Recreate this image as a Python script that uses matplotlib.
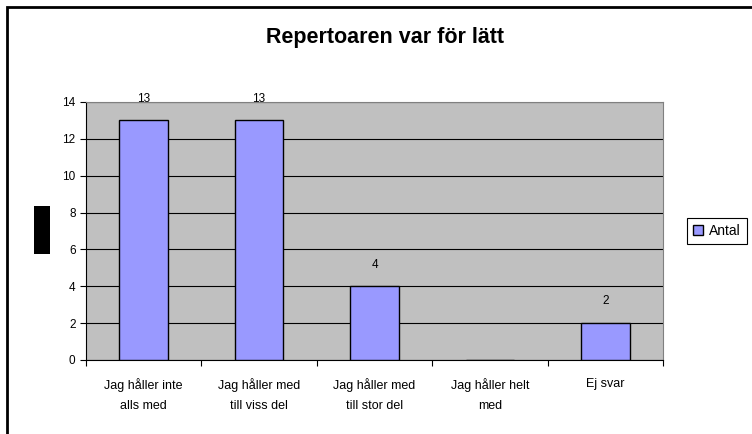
import matplotlib.pyplot as plt
from matplotlib.patches import Rectangle

plt.rcParams['font.family'] = ['Liberation Sans', 'DejaVu Sans']

categories = ["Jag håller inte\nalls med", "Jag håller med\ntill viss del",
              "Jag håller med\ntill stor del", "Jag håller helt\nmed", "Ej svar"]
antal = [13, 13, 4, 0, 2]
y_ticks = [0, 2, 4, 6, 8, 10, 12, 14]

W, H = 752, 434
fig = plt.figure(figsize=(W / 100, H / 100), dpi=100)

# outer chart frame (cut off at right and bottom)
fig.patches.append(Rectangle((7 / W, -0.05), 1.1, 1 - 7 / H + 0.05, transform=fig.transFigure,
                             fill=False, edgecolor='black', linewidth=2))

left, right, top, bottom = 86, 663, 102, 360
ax = fig.add_axes([left / W, 1 - bottom / H, (right - left) / W, (bottom - top) / H])
ax.set_facecolor('#C0C0C0')

x = list(range(len(categories)))
bars = ax.bar(x, antal, width=0.42, color='#9999FF', edgecolor='black', linewidth=1,
              zorder=3, label='Antal')
for xi, v in zip(x, antal):
    if v > 0:
        ax.text(xi, v + 0.85, str(v), ha='center', va='bottom', fontsize=8.5)

ax.set_xlim(-0.5, len(categories) - 0.5)
ax.set_ylim(0, 14)
ax.set_yticks(y_ticks)
ax.yaxis.grid(True, color='black', linewidth=0.8, zorder=0)
ax.set_axisbelow(True)
ax.tick_params(axis='y', labelsize=8.5, length=4, direction='out', width=0.8)

ax.set_xticks([i - 0.5 for i in range(len(categories) + 1)])
ax.set_xticklabels([])
ax.set_xticks(x, minor=True)
ax.set_xticklabels(categories, minor=True, fontsize=9, linespacing=1.85)
ax.tick_params(axis='x', which='major', length=4, width=0.8)
ax.tick_params(axis='x', which='minor', length=0, pad=13)

for s in ['top', 'right']:
    ax.spines[s].set_color('#808080')
for s in ['left', 'bottom']:
    ax.spines[s].set_color('black')

fig.text(385 / W, 1 - 38 / H, "Repertoaren var för lätt", fontsize=15.5, fontweight='bold',
         ha='center', va='center')

# y-axis label rendered as a solid block in the original
fig.patches.append(Rectangle((34 / W, 1 - 254 / H), 16 / W, 48 / H, transform=fig.transFigure,
                             facecolor='black', edgecolor='none'))

leg = fig.legend(handles=[bars], labels=['Antal'], loc='center', bbox_to_anchor=(717 / W, 1 - 231 / H),
                 fontsize=10, frameon=True, fancybox=False, edgecolor='black', framealpha=1,
                 handlelength=0.7, handleheight=0.7, handletextpad=0.5, borderpad=0.45)
leg.get_frame().set_linewidth(0.8)

fig.savefig('out.png', dpi=100)
